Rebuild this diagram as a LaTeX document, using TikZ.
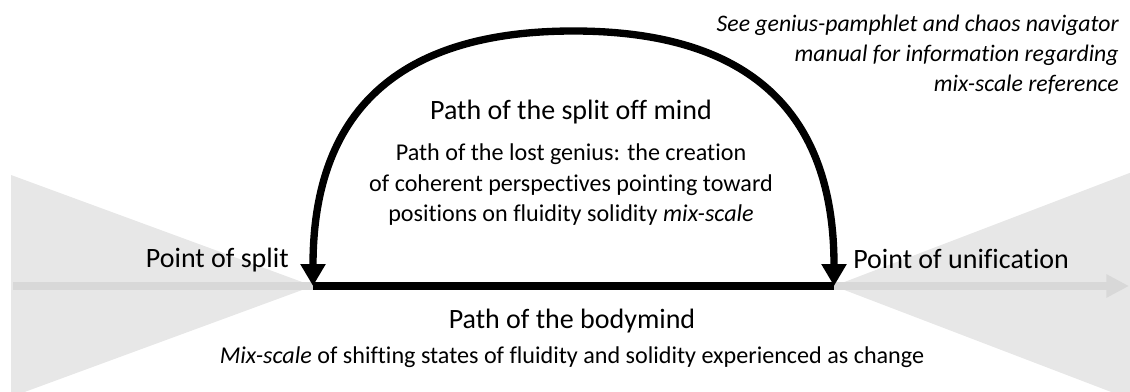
\documentclass[tikz,border=0pt]{standalone}
\usepackage{fontspec}
\setmainfont{Carlito}[Ligatures=NoCommon]
\usetikzlibrary{arrows.meta, positioning}
\definecolor{fadegray}{RGB}{231,231,231}
\definecolor{axisgray}{RGB}{216,216,216}

\begin{document}
\begin{tikzpicture}[
        x=0.75pt, y=-0.75pt,
        titletext/.style={font=\fontsize{21}{25}\selectfont, inner sep=0pt},
        bodytext/.style={font=\fontsize{18.1}{22.9}\selectfont, align=center, inner sep=0pt},
        notetext/.style={font=\fontsize{17.8}{22.5}\selectfont\itshape, align=right, inner sep=0pt},
        axisline/.style={draw=axisgray, line width=6pt, -{Triangle[length=17pt, width=16.5pt]}},
        pathline/.style={line width=5.5pt},
        patharrow/.style={line width=5.5pt, {Triangle[length=16.5pt, width=18pt]}-{Triangle[length=16.5pt, width=18pt]}}
    ]
        \useasboundingbox (0,0) rectangle (1130,392);
        \clip (0,0) rectangle (1130,392);

        % Key points
        \coordinate (split) at (313,286);
        \coordinate (unify) at (834,286);
        \coordinate (arctop) at (573.5,31);
        \coordinate (axisstart) at (13,286);
        \coordinate (axisend) at (1129,286);

        % Grey fans
        \fill[fadegray] (11,175) -- (11,397) -- (split) -- cycle;
        \fill[fadegray] (unify) -- (1140,169) -- (1140,403) -- cycle;

        % Grey axis
        \draw[axisline] (axisstart) -- (axisend);

        % Bodymind path
        \draw[pathline] (split) -- (unify);

        % Split off mind path
        \draw[patharrow] (split) .. controls +(0,-173) and +(-177,0) .. (arctop)
            .. controls +(177,0) and +(0,-173) .. (unify);

        % Point labels
        \node[titletext, anchor=base east] (splitlabel) at (289,267) {Point of split};
        \node[titletext, anchor=base west] (unifylabel) at (853,268) {Point of unification};

        % Mind texts
        \node[titletext, anchor=base] (mindtitle) at (571,120) {Path of the split off mind};
        \node[bodytext, below=14pt of mindtitle] (mindtext) {Path of the lost genius: the creation\\of coherent perspectives pointing toward\\positions on fluidity solidity \textit{mix-scale}};

        % Bodymind texts
        \node[titletext, anchor=base] (bodytitle) at (572,328) {Path of the bodymind};
        \node[bodytext, anchor=base] (bodytext) at (572,363) {\textit{Mix-scale} of shifting states of fluidity and solidity experienced as change};

        % Note
        \node[notetext, anchor=north east] (note) at (1119,15) {See genius-pamphlet and chaos navigator\\manual for information regarding\\mix-scale reference};

    \end{tikzpicture}
\end{document}
